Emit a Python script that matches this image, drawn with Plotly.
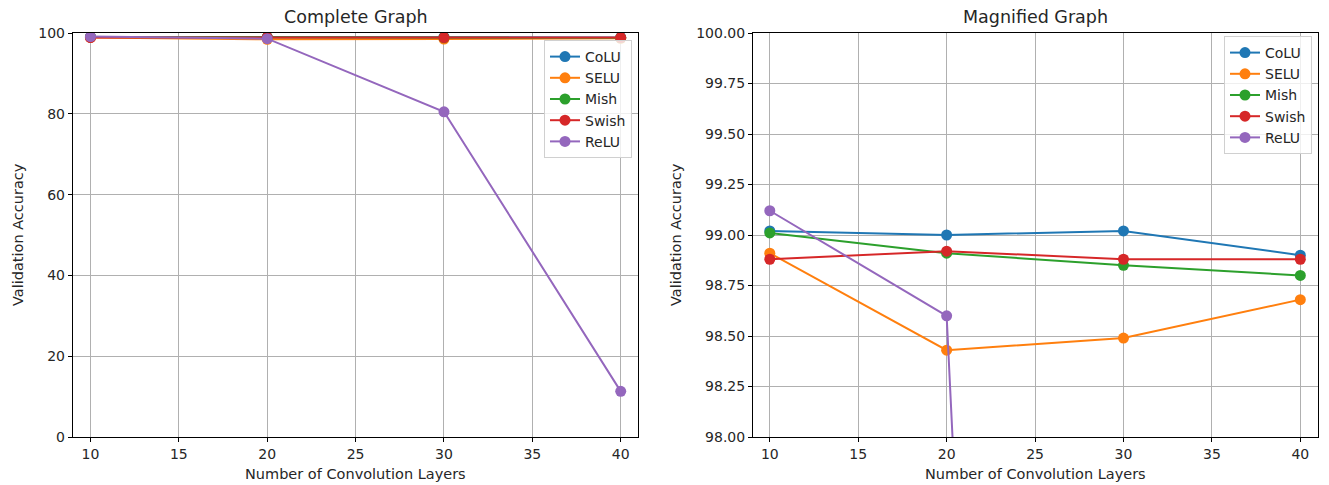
import plotly.graph_objects as go

layers = [10, 20, 30, 40]
colu = [99.02, 99.00, 99.02, 98.90]
selu = [98.91, 98.43, 98.49, 98.68]
mish = [99.01, 98.91, 98.85, 98.80]
swish = [98.88, 98.92, 98.88, 98.88]
relu = [99.12, 98.60, 80.5, 11.3]

names = ["CoLU", "SELU", "Mish", "Swish", "ReLU"]
series = [colu, selu, mish, swish, relu]
colors = ["#1f77b4", "#ff7f0e", "#2ca02c", "#d62728", "#9467bd"]

left_yticks = [0, 20, 40, 60, 80, 100]
right_yticks = [98.00, 98.25, 98.50, 98.75, 99.00, 99.25, 99.50, 99.75, 100.00]
xticks = [10, 15, 20, 25, 30, 35, 40]

FONT = "DejaVu Sans"
TXT = "#262626"
fig = go.Figure()

for name, vals, col in zip(names, series, colors):
    fig.add_trace(go.Scatter(x=layers, y=vals, name=name, mode="lines+markers",
                             line=dict(color=col, width=2), marker=dict(size=11, color=col),
                             xaxis="x", yaxis="y", legend="legend"))
for name, vals, col in zip(names, series, colors):
    fig.add_trace(go.Scatter(x=layers, y=vals, name=name, mode="lines+markers",
                             line=dict(color=col, width=2), marker=dict(size=11, color=col),
                             xaxis="x2", yaxis="y2", legend="legend2"))

W, H = 1329, 485
ytop = 1 - 33 / H
ybot = 1 - 437 / H

axis_common = dict(showline=True, linecolor="black", linewidth=1, mirror=True,
                   ticks="outside", ticklen=4, tickcolor="black", automargin=False,
                   showgrid=True, gridcolor="#b0b0b0", gridwidth=1, zeroline=False,
                   tickfont=dict(family=FONT, size=14, color=TXT))

legend_common = dict(xanchor="right", yanchor="top",
                     bgcolor="rgba(255,255,255,0.8)", bordercolor="#d0d0d0", borderwidth=1,
                     font=dict(family=FONT, size=14, color=TXT), tracegroupgap=0,
                     itemwidth=30)

fig.update_layout(
    width=W, height=H,
    margin=dict(l=0, r=0, t=0, b=0, autoexpand=False),
    plot_bgcolor="white", paper_bgcolor="white",
    font=dict(family=FONT, size=14, color=TXT),
    xaxis=dict(domain=[72.8 / W, 638.4 / W], range=[9.0, 41.0], tickvals=xticks,
               anchor="y", **axis_common),
    yaxis=dict(domain=[ybot, ytop], range=[0, 100], tickvals=left_yticks,
               anchor="x", **axis_common),
    xaxis2=dict(domain=[753 / W, 1318 / W], range=[9.05, 41.0], tickvals=xticks,
                anchor="y2", **axis_common),
    yaxis2=dict(domain=[ybot, ytop], range=[98, 100], tickvals=right_yticks,
                tickformat=".2f", anchor="x2", **axis_common),
    legend=dict(x=632 / W, y=1 - 40 / H, **legend_common),
    legend2=dict(x=1312 / W, y=1 - 36 / H, **legend_common),
    showlegend=True,
)

annots = [
    dict(text="Complete Graph", x=(72.8 + 638.4) / 2 / W, y=1 - 17 / H, size=17.5),
    dict(text="Magnified Graph", x=(753 + 1318) / 2 / W, y=1 - 17 / H, size=17.5),
    dict(text="Number of Convolution Layers", x=(72.8 + 638.4) / 2 / W, y=1 - 474 / H, size=14.5),
    dict(text="Number of Convolution Layers", x=(753 + 1318) / 2 / W, y=1 - 474 / H, size=14.5),
]
for a in annots:
    fig.add_annotation(text=a["text"], x=a["x"], y=a["y"], xref="paper", yref="paper",
                       showarrow=False, xanchor="center", yanchor="middle",
                       font=dict(family=FONT, size=a["size"], color=TXT))
for xp in [18, 676]:
    fig.add_annotation(text="Validation Accuracy", x=xp / W, y=(ytop + ybot) / 2,
                       xref="paper", yref="paper", showarrow=False, textangle=-90,
                       xanchor="center", yanchor="middle",
                       font=dict(family=FONT, size=14.5, color=TXT))

fig.write_html("out.html", config={"displayModeBar": False},
               post_script="document.body.style.margin='0';document.body.style.overflow='hidden';")
